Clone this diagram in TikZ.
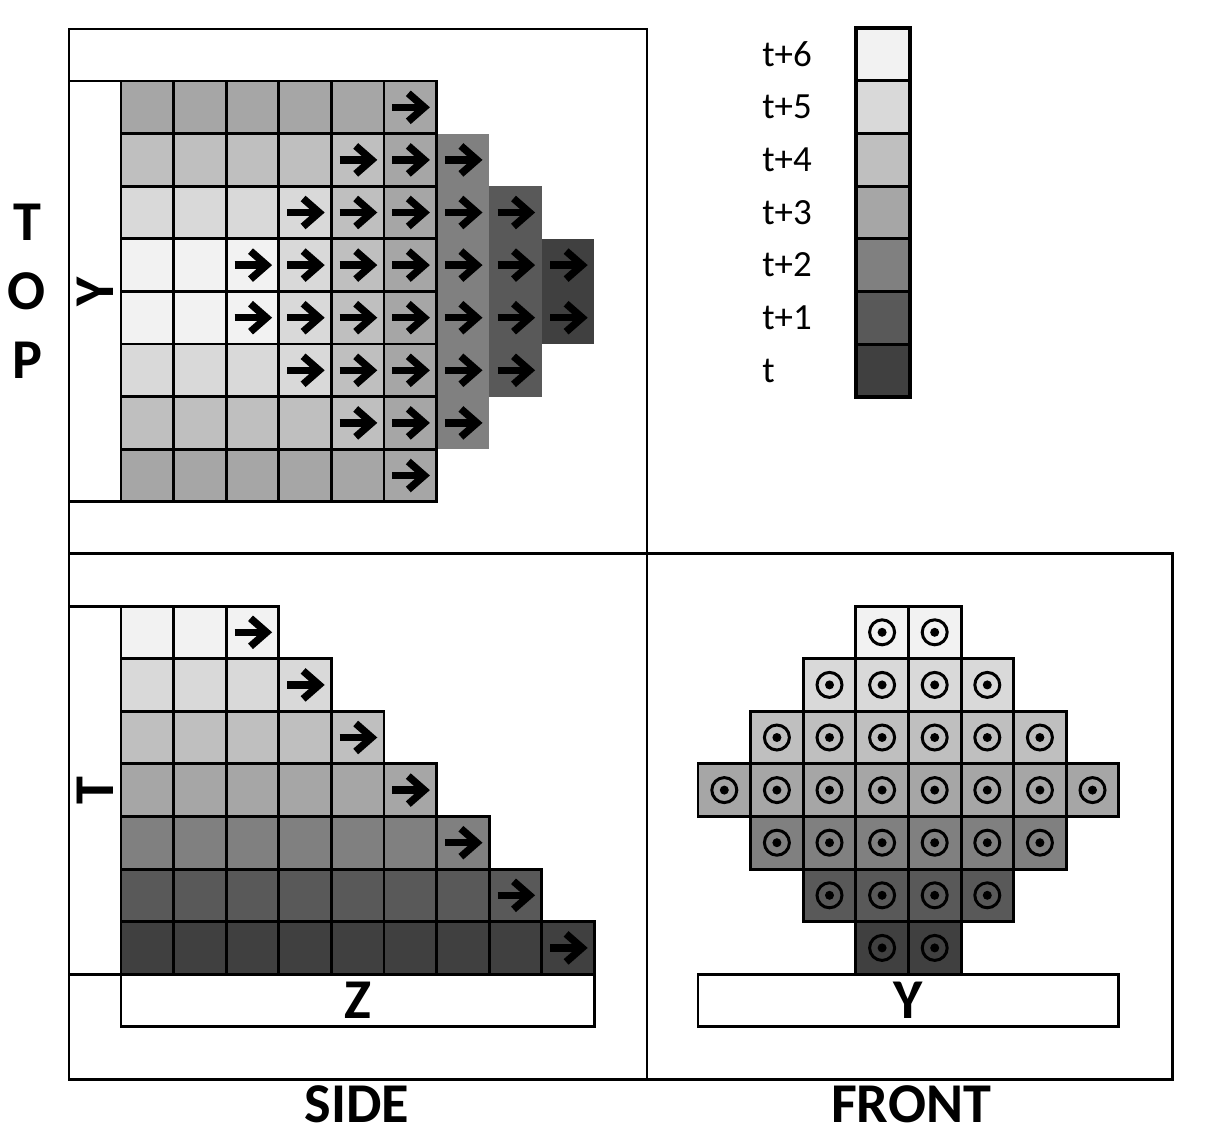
\documentclass[tikz,border=0pt]{standalone}
\usepackage{fontspec}
\setmainfont{Carlito}
\definecolor{lvl0}{HTML}{404040}
\definecolor{lvl1}{HTML}{595959}
\definecolor{lvl2}{HTML}{808080}
\definecolor{lvl3}{HTML}{A6A6A6}
\definecolor{lvl4}{HTML}{BFBFBF}
\definecolor{lvl5}{HTML}{D9D9D9}
\definecolor{lvl6}{HTML}{F2F2F2}
\tikzset{
  gridline/.style={draw=black, line width=1.7pt},
  axisbox/.style={draw=black, line width=1.7pt, fill=white},
  bigletter/.style={font=\fontsize{32}{32}\selectfont\bfseries, inner sep=0pt},
  legtext/.style={font=\fontsize{21}{21}\selectfont, anchor=west, inner sep=0pt},
  movearrow/.pic={
    \draw[line width=4.2pt] (-18,0) -- (12,0);
    \draw[line width=4.2pt, line join=miter] (-2,-14) -- (14,0) -- (-2,14);
  },
  outdot/.pic={
    \draw[line width=1.7pt] (0,0) circle (12.5);
    \fill (0,0) circle (4.5);
  }
}
\begin{document}
\begin{tikzpicture}[x=0.02cm, y=-0.02cm]
\useasboundingbox (0,0) rectangle (1208,1133);
\def\s{52.6}
% panels
\draw[line width=1.7pt] (69,29) rectangle (647,553);
\draw[line width=1.7pt] (69,553) rectangle (647,1079);
\draw[line width=1.7pt] (647,553) rectangle (1172,1079);
% TOP view
\draw[axisbox] (69,81) rectangle (121,{81+8*\s});
\node[bigletter, rotate=90] (axY) at (95,{81+4*\s}) {Y};
\foreach \r/\rl in {0/3,1/4,2/5,3/6,4/6,5/5,6/4,7/3} {
  \pgfmathtruncatemacro{\last}{\rl+2}
  \foreach \c in {0,...,\last} {
    \pgfmathtruncatemacro{\lv}{min(\rl,min(6,8-\c))}
    \fill[lvl\lv] ({121+\c*\s},{81+\r*\s}) rectangle ++(\s,\s);
  }
}
\foreach \r/\rl in {0/3,1/4,2/5,3/6,4/6,5/5,6/4,7/3} {
  \pgfmathtruncatemacro{\last}{\rl+2}
  \pgfmathtruncatemacro{\first}{8-\rl}
  \foreach \c in {0,...,5}
    \draw[gridline] ({121+\c*\s},{81+\r*\s}) rectangle ++(\s,\s);
  \foreach \c in {\first,...,\last}
    \pic at ({121+(\c+0.5)*\s},{81+(\r+0.5)*\s}) {movearrow};
}
% legend
\foreach \lv/\txt [count=\i from 0] in {6/t+6,5/t+5,4/t+4,3/t+3,2/t+2,1/t+1,0/t} {
  \draw[fill=lvl\lv, line width=1.7pt] (856,{28+\i*52.7}) rectangle (910,{28+(\i+1)*52.7});
  \node[legtext] (leg\lv) at (762,{28+(\i+0.5)*52.7}) {\txt};
}
\draw[line width=2.2pt] (856,28) rectangle (910,{28+7*52.7});
% SIDE view
\draw[axisbox] (69,606) rectangle (121,{606+7*\s});
\draw[axisbox] (121,{606+7*\s}) rectangle ({121+9*\s},1026);
\node[bigletter, rotate=90] (axT) at (95,{606+3.5*\s}) {T};
\node[bigletter] (axZ) at ({121+4.5*\s},1000) {Z};
\foreach \r in {0,...,6} {
  \pgfmathtruncatemacro{\last}{\r+2}
  \pgfmathtruncatemacro{\lv}{6-\r}
  \foreach \c in {0,...,\last}
    \fill[lvl\lv] ({121+\c*\s},{606+\r*\s}) rectangle ++(\s,\s);
}
\foreach \r in {0,...,6} {
  \pgfmathtruncatemacro{\last}{\r+2}
  \foreach \c in {0,...,\last}
    \draw[gridline] ({121+\c*\s},{606+\r*\s}) rectangle ++(\s,\s);
  \pic at ({121+(\last+0.5)*\s},{606+(\r+0.5)*\s}) {movearrow};
}
% FRONT view
\draw[axisbox] (698,{606+7*\s}) rectangle ({698+8*\s},1026);
\node[bigletter] (axYf) at ({698+4*\s},1000) {Y};
\foreach \r in {0,...,6} {
  \pgfmathtruncatemacro{\k}{3-abs(\r-3)}
  \pgfmathtruncatemacro{\first}{3-\k}
  \pgfmathtruncatemacro{\last}{4+\k}
  \pgfmathtruncatemacro{\lv}{6-\r}
  \foreach \c in {\first,...,\last}
    \fill[lvl\lv] ({698+\c*\s},{606+\r*\s}) rectangle ++(\s,\s);
}
\foreach \r in {0,...,6} {
  \pgfmathtruncatemacro{\k}{3-abs(\r-3)}
  \pgfmathtruncatemacro{\first}{3-\k}
  \pgfmathtruncatemacro{\last}{4+\k}
  \foreach \c in {\first,...,\last} {
    \draw[gridline] ({698+\c*\s},{606+\r*\s}) rectangle ++(\s,\s);
    \pic at ({698+(\c+0.5)*\s},{606+(\r+0.5)*\s}) {outdot};
  }
}
% view names
\node[bigletter] (labT) at (27,222) {T};
\node[bigletter] (labO) at (27,291) {O};
\node[bigletter] (labP) at (27,360) {P};
\node[bigletter] (labSide) at (357,1104) {SIDE};
\node[bigletter] (labFront) at (911,1104) {FRONT};
\end{tikzpicture}
\end{document}
